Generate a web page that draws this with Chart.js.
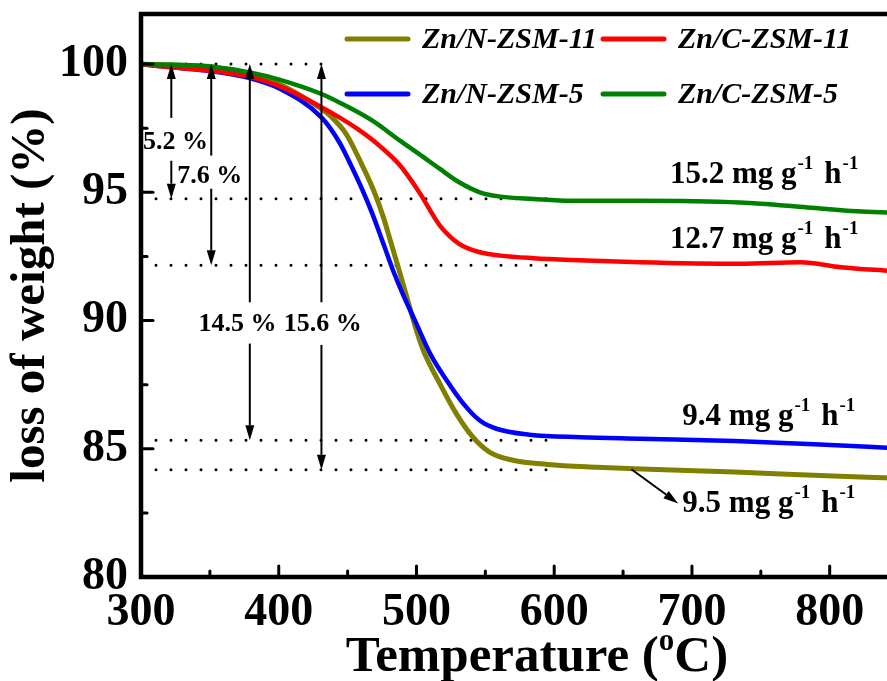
<!DOCTYPE html>
<html>
<head>
<meta charset="utf-8">
<script src="https://cdn.jsdelivr.net/npm/chart.js@4.4.1/dist/chart.umd.min.js"></script>
<style>
  html, body { margin: 0; padding: 0; background: #fff; overflow: hidden; }
  canvas { display: block; }
</style>
</head>
<body>
<canvas id="tgaChart" width="933" height="681"></canvas>
<script>
const SERIF = "'Liberation Serif', 'Times New Roman', serif";

const seriesNames = ['Zn/N-ZSM-11', 'Zn/C-ZSM-11', 'Zn/N-ZSM-5', 'Zn/C-ZSM-5'];
const seriesColors = ['#808000', '#ff0000', '#0000ff', '#008000'];

// temperature (oC) / remaining weight (%)
const tempNZSM11 = [300, 322, 350, 379, 400, 431, 437, 449, 459, 469, 476, 481, 486, 493, 500, 505, 517, 529, 541, 553, 570, 595, 631, 658, 731, 793, 845];
const weightNZSM11 = [100, 99.95, 99.9, 99.54, 99.22, 98.25, 98.0, 97.27, 96.23, 95.06, 94.02, 93.12, 92.21, 90.91, 89.61, 88.83, 87.53, 86.36, 85.45, 84.87, 84.55, 84.39, 84.28, 84.22, 84.09, 83.96, 83.86];

const tempCZSM11 = [300, 322, 350, 379, 400, 444, 459, 473, 488, 502, 517, 531, 546, 561, 585, 612, 662, 735, 779, 808, 845];
const weightCZSM11 = [100, 99.87, 99.74, 99.5, 99.15, 97.92, 97.40, 96.82, 96.05, 95.0, 93.7, 92.99, 92.66, 92.53, 92.43, 92.36, 92.27, 92.21, 92.27, 92.08, 91.93];

const tempNZSM5 = [300, 322, 350, 379, 400, 431, 444, 452, 461, 468, 476, 483, 490, 500, 510, 522, 534, 546, 558, 582, 619, 662, 731, 793, 845];
const weightNZSM5 = [100, 99.87, 99.73, 99.45, 99.06, 97.92, 96.95, 96.10, 95.06, 94.16, 92.99, 91.95, 91.04, 89.87, 88.70, 87.66, 86.76, 86.1, 85.78, 85.55, 85.45, 85.39, 85.30, 85.17, 85.03];

const tempCZSM5 = [300, 350, 379, 401, 431, 444, 468, 488, 502, 517, 531, 546, 561, 585, 612, 662, 735, 784, 820, 845];
const weightCZSM5 = [100, 99.9, 99.67, 99.38, 98.83, 98.5, 97.79, 97.01, 96.49, 95.91, 95.39, 95.0, 94.83, 94.74, 94.67, 94.67, 94.6, 94.41, 94.26, 94.21];

// dotted guide lines
const refLevels = [100, 94.75, 92.15, 85.33, 84.18];
const refEnds = [431, 597, 597, 597, 597];

// weight-loss arrows
const lossLabels = ['5.2 %', '7.6 %', '14.5 %', '15.6 %'];
const lossX = [322, 351, 379, 431];
const lossUpFrom = [97.9, 96.43, 90.71, 90.71];
const lossDownFrom = [96.23, 95.14, 89.1, 89.05];
const lossDownTo = [94.75, 92.15, 85.33, 84.18];
const lossLabelX = [325, 350, 370, 432];
const lossLabelY = [96.7, 95.38, 89.61, 89.61];

// rate annotations
const rateValues = ['15.2', '12.7', '9.4', '9.5'];
const rateX = [684, 684, 693, 693];
const rateY = [95.38, 92.84, 85.91, 82.52];
const pointerFrom = [656, 84.2];
const pointerTo = [690, 82.87];

const xMajor = [300, 400, 500, 600, 700, 800];
const xMinor = [350, 450, 550, 650, 750, 850];
const yMajor = [80, 85, 90, 95, 100];
const yMinor = [82.5, 87.5, 92.5, 97.5];

function toPoints(xs, ys) {
    return xs.map((t, i) => ({ x: t, y: ys[i] }));
}

function drawArrow(ctx, x1, y1, x2, y2) {
    const ang = Math.atan2(y2 - y1, x2 - x1);
    const len = 15, half = 4.5;
    const bx = x2 - len * Math.cos(ang), by = y2 - len * Math.sin(ang);
    ctx.beginPath();
    ctx.moveTo(x1, y1);
    ctx.lineTo(bx, by);
    ctx.stroke();
    ctx.beginPath();
    ctx.moveTo(x2, y2);
    ctx.lineTo(bx + half * Math.sin(ang), by - half * Math.cos(ang));
    ctx.lineTo(bx - half * Math.sin(ang), by + half * Math.cos(ang));
    ctx.closePath();
    ctx.fill();
}

// draws a run of [text, isSuperscript, gapAfter] parts from x on baseline y
function drawParts(ctx, parts, x, y, size, supSize, rise) {
    parts.forEach(([txt, sup, gap]) => {
        ctx.font = `bold ${sup ? supSize : size}px ${SERIF}`;
        ctx.fillText(txt, x, sup ? y - rise : y);
        x += ctx.measureText(txt).width + (gap || 0);
    });
}

function partsWidth(ctx, parts, size, supSize) {
    let w = 0;
    parts.forEach(([txt, sup, gap]) => {
        ctx.font = `bold ${sup ? supSize : size}px ${SERIF}`;
        w += ctx.measureText(txt).width + (gap || 0);
    });
    return w;
}

const decorPlugin = {
    id: 'decor',
    afterDraw(chart) {
        const { ctx, chartArea: a, scales: { x, y } } = chart;
        ctx.save();
        ctx.strokeStyle = '#000';
        ctx.fillStyle = '#000';

        // frame
        ctx.lineWidth = 4.5;
        ctx.lineCap = 'square';
        ctx.beginPath();
        ctx.moveTo(a.right + 5, a.top);
        ctx.lineTo(a.left, a.top);
        ctx.lineTo(a.left, a.bottom);
        ctx.lineTo(a.right + 5, a.bottom);
        ctx.stroke();

        // inward ticks
        ctx.lineWidth = 3;
        ctx.lineCap = 'round';
        xMajor.forEach(v => {
            const px = x.getPixelForValue(v);
            ctx.beginPath(); ctx.moveTo(px, a.bottom); ctx.lineTo(px, a.bottom - 11); ctx.stroke();
        });
        xMinor.forEach(v => {
            const px = x.getPixelForValue(v);
            ctx.beginPath(); ctx.moveTo(px, a.bottom); ctx.lineTo(px, a.bottom - 6); ctx.stroke();
        });
        yMajor.forEach(v => {
            const py = y.getPixelForValue(v);
            ctx.beginPath(); ctx.moveTo(a.left, py); ctx.lineTo(a.left + 12, py); ctx.stroke();
        });
        yMinor.forEach(v => {
            const py = y.getPixelForValue(v);
            ctx.beginPath(); ctx.moveTo(a.left, py); ctx.lineTo(a.left + 6, py); ctx.stroke();
        });

        // weight-loss arrows
        ctx.lineWidth = 2;
        ctx.lineCap = 'butt';
        lossX.forEach((t, i) => {
            const px = x.getPixelForValue(t);
            drawArrow(ctx, px, y.getPixelForValue(lossUpFrom[i]), px, y.getPixelForValue(100));
            drawArrow(ctx, px, y.getPixelForValue(lossDownFrom[i]), px, y.getPixelForValue(lossDownTo[i]));
        });
        drawArrow(ctx, x.getPixelForValue(pointerFrom[0]), y.getPixelForValue(pointerFrom[1]),
            x.getPixelForValue(pointerTo[0]), y.getPixelForValue(pointerTo[1]));

        ctx.textBaseline = 'alphabetic';
        ctx.textAlign = 'center';
        ctx.font = `bold 26px ${SERIF}`;
        lossLabels.forEach((txt, i) => {
            ctx.fillText(txt, x.getPixelForValue(lossLabelX[i]), y.getPixelForValue(lossLabelY[i]));
        });

        ctx.textAlign = 'left';
        rateValues.forEach((v, i) => {
            const parts = [[v + ' mg g', false, 1], ['-1', true, 11], ['h', false, 1], ['-1', true]];
            drawParts(ctx, parts, x.getPixelForValue(rateX[i]), y.getPixelForValue(rateY[i]), 31, 19, 14);
        });

        // legend, 2 x 2
        const cols = [347, 603], rows = [39, 94];
        seriesNames.forEach((name, i) => {
            const lx = cols[i % 2], ly = rows[Math.floor(i / 2)];
            ctx.strokeStyle = seriesColors[i];
            ctx.lineWidth = 5;
            ctx.lineCap = 'round';
            ctx.beginPath(); ctx.moveTo(lx, ly); ctx.lineTo(lx + 61, ly); ctx.stroke();
            ctx.font = `italic bold 30px ${SERIF}`;
            ctx.fillText(name, lx + 75, ly + 9);
        });

        // x axis title with superscript o
        const tParts = [['Temperature (', false], ['o', true], ['C)', false]];
        const tw = partsWidth(ctx, tParts, 51, 31);
        drawParts(ctx, tParts, (a.left + a.right) / 2 - tw / 2, 671, 51, 31, 21);

        ctx.restore();
    }
};

const curveData = [
    toPoints(tempNZSM11, weightNZSM11),
    toPoints(tempCZSM11, weightCZSM11),
    toPoints(tempNZSM5, weightNZSM5),
    toPoints(tempCZSM5, weightCZSM5)
];
const drawOrder = [3, 1, 2, 0];

const datasets = seriesNames.map((name, i) => ({
    label: name,
    data: curveData[i],
    borderColor: seriesColors[i],
    borderWidth: i === 0 ? 5 : 4.5,
    pointRadius: 0,
    cubicInterpolationMode: 'monotone',
    order: drawOrder[i]
}));

refLevels.forEach((lvl, i) => {
    datasets.push({
        label: 'ref' + i,
        data: [{ x: 300, y: lvl }, { x: refEnds[i], y: lvl }],
        borderColor: '#000',
        borderWidth: 3,
        borderDash: [0, 15],
        borderCapStyle: 'round',
        pointRadius: 0,
        order: 5
    });
});

new Chart(document.getElementById('tgaChart'), {
    type: 'line',
    data: { datasets },
    options: {
        responsive: false,
        animation: false,
        layout: { padding: { left: 0, top: 14, right: 0, bottom: 0 } },
        plugins: {
            legend: { display: false },
            tooltip: { enabled: false }
        },
        scales: {
            x: {
                type: 'linear',
                min: 300,
                max: 875,
                afterBuildTicks: s => { s.ticks = xMajor.map(v => ({ value: v })); },
                afterFit: s => { s.height = 104; s.paddingLeft = 0; s.paddingRight = 0; },
                grid: { display: false, drawTicks: false },
                border: { display: false },
                ticks: {
                    color: '#000',
                    padding: 9,
                    font: { family: SERIF, size: 46, weight: 'bold' }
                }
            },
            y: {
                min: 80,
                max: 101.95,
                afterBuildTicks: s => { s.ticks = yMajor.map(v => ({ value: v })); },
                afterFit: s => { s.width = 141; s.paddingTop = 0; s.paddingBottom = 0; },
                grid: { display: false, drawTicks: false },
                border: { display: false },
                ticks: {
                    color: '#000',
                    padding: 13,
                    font: { family: SERIF, size: 46, weight: 'bold' }
                },
                title: {
                    display: true,
                    text: 'loss of weight (%)',
                    color: '#000',
                    padding: { top: 2, bottom: 0 },
                    font: { family: SERIF, size: 49, weight: 'bold' }
                }
            }
        }
    },
    plugins: [decorPlugin]
});
</script>
</body>
</html>
